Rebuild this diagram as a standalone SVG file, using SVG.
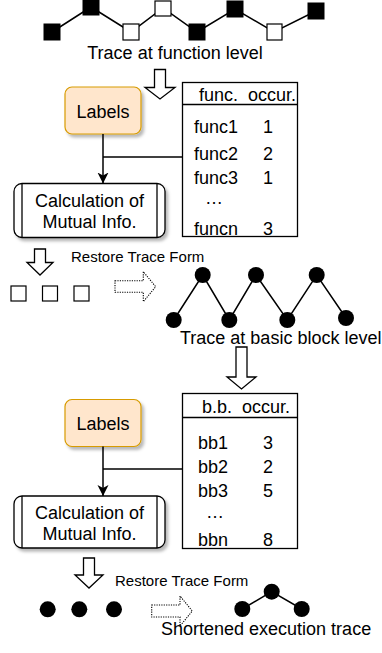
<svg xmlns="http://www.w3.org/2000/svg" width="382" height="653" viewBox="0 0 382 653">
  <style>
    text { font-family: "Liberation Sans", Arial, sans-serif; fill: #000; }
    .t18 { font-size: 18px; }
    .t15 { font-size: 15px; }
    .mid { text-anchor: middle; }
    .end { text-anchor: end; }
    .trace { fill: none; stroke: #000; stroke-width: 1.5; }
    .sqb { fill: #000; stroke: #000; stroke-width: 1; }
    .sqw { fill: #fff; stroke: #000; stroke-width: 1.2; }
    .dot { fill: #000; }
    .block { fill: #fff; stroke: #000; stroke-width: 1.3; stroke-linejoin: miter; }
    .dotted { fill: #fff; stroke: #000; stroke-width: 1.1; stroke-dasharray: 1.2 1.2; }
    .label { fill: #ffe6cc; stroke: #d79b00; stroke-width: 1.2; }
    .proc { fill: #fff; stroke: #000; stroke-width: 1.3; }
    .tbl { fill: #fff; stroke: #000; stroke-width: 1.3; }
    .wire { fill: none; stroke: #000; stroke-width: 1.5; }
  </style>
  <defs>
    <filter id="shadow" x="-20%" y="-20%" width="150%" height="150%">
      <feDropShadow dx="2.5" dy="3" stdDeviation="1.5" flood-color="#000" flood-opacity="0.28"/>
    </filter>
    <marker id="arrow" viewBox="0 0 12 12" refX="11" refY="6" markerWidth="12" markerHeight="12" markerUnits="userSpaceOnUse" orient="auto">
      <path d="M0,0.5 L11,6 L0,11.5 L3,6 Z" fill="#000"/>
    </marker>
  </defs>

  <!-- function-level trace -->
  <g id="trace-function">
    <polyline class="trace" points="52,32 91,7 131,32 163,8 197,32 235,9 274,32 316,11"/>
    <rect class="sqb" x="44" y="24" width="16" height="16"/>
    <rect class="sqb" x="83" y="-1" width="16" height="16"/>
    <rect class="sqw" x="123" y="24" width="16" height="16"/>
    <rect class="sqw" x="155" y="1" width="16" height="15"/>
    <rect class="sqb" x="189" y="24" width="16" height="16"/>
    <rect class="sqb" x="227" y="1" width="16" height="16"/>
    <rect class="sqw" x="267" y="24" width="15" height="16"/>
    <rect class="sqb" x="308" y="3" width="16" height="16"/>
    <text class="t18 mid" x="175" y="59">Trace at function level</text>
  </g>

  <g id="down-arrow-1">
    <polygon class="block" points="154.5,69.5 165.5,69.5 165.5,87.5 175,87.5 160,99 145,87.5 154.5,87.5"/>
  </g>

  <!-- first pass -->
  <g id="labels-1">
    <rect class="label" x="65" y="87" width="76" height="47" rx="7" filter="url(#shadow)"/>
    <text class="t18 mid" x="103" y="118">Labels</text>
  </g>

  <g id="table-func">
    <rect class="tbl" x="182.5" y="82.5" width="115" height="154"/>
    <line class="wire" x1="182.5" y1="104.5" x2="297.5" y2="104.5" stroke-width="1.3"/>
    <text class="t18" x="199" y="101">func.</text>
    <text class="t18 end" x="296" y="101">occur.</text>
    <text class="t18" x="194" y="133">func1</text>
    <text class="t18 mid" x="268" y="133">1</text>
    <text class="t18" x="194" y="160">func2</text>
    <text class="t18 mid" x="268" y="160">2</text>
    <text class="t18" x="194" y="184">func3</text>
    <text class="t18 mid" x="268" y="184">1</text>
    <text class="t18 mid" x="214" y="204">…</text>
    <text class="t18" x="194" y="235">funcn</text>
    <text class="t18 mid" x="268" y="235">3</text>
  </g>

  <g id="calc-1">
    <rect class="proc" x="14" y="183.5" width="151" height="54" rx="8" filter="url(#shadow)"/>
    <line class="proc" x1="22" y1="183.5" x2="22" y2="237.5"/>
    <line class="proc" x1="157" y1="183.5" x2="157" y2="237.5"/>
    <text class="t18 mid" x="89.5" y="207">Calculation of</text>
    <text class="t18 mid" x="89.5" y="228">Mutual Info.</text>
  </g>

  <g id="down-arrow-2">
    <polygon class="block" points="34.5,249 45.5,249 45.5,262.5 53,262.5 40,275 27,262.5 34.5,262.5"/>
  </g>
  <text class="t15" x="71" y="262">Restore Trace Form</text>

  <g id="squares-restored">
    <rect class="sqw" x="11" y="286" width="15" height="15"/>
    <rect class="sqw" x="42.5" y="286" width="15" height="15"/>
    <rect class="sqw" x="74" y="286" width="15" height="15"/>
  </g>

  <g id="dotted-arrow-1">
    <polygon class="dotted" points="115,280.7 143.3,280.7 143.3,271.7 155.7,286.7 143.3,301.7 143.3,292.3 115,292.3"/>
  </g>

  <!-- basic-block-level trace -->
  <g id="trace-basic-block">
    <polyline class="trace" points="173.7,320 202.7,275 229.3,320 256,275 287.3,320 316.7,275 346,318"/>
    <circle class="dot" cx="173.7" cy="320" r="8"/>
    <circle class="dot" cx="202.7" cy="275" r="8"/>
    <circle class="dot" cx="229.3" cy="320" r="8"/>
    <circle class="dot" cx="256" cy="275" r="8"/>
    <circle class="dot" cx="287.3" cy="320" r="8"/>
    <circle class="dot" cx="316.7" cy="275" r="8"/>
    <circle class="dot" cx="346" cy="318" r="8"/>
    <text class="t18" x="180" y="344">Trace at basic block level</text>
  </g>

  <g id="down-arrow-3">
    <polygon class="block" points="236,347 247,347 247,377 256,377 241.5,389 227,377 236,377"/>
  </g>

  <!-- second pass -->
  <g id="labels-2">
    <rect class="label" x="65" y="399.5" width="76" height="47" rx="7" filter="url(#shadow)"/>
    <text class="t18 mid" x="103" y="429.5">Labels</text>
  </g>

  <g id="table-bb">
    <rect class="tbl" x="182.5" y="393.5" width="115" height="155"/>
    <line class="wire" x1="182.5" y1="417.5" x2="297.5" y2="417.5" stroke-width="1.3"/>
    <text class="t18" x="202" y="413">b.b.</text>
    <text class="t18 end" x="290" y="413">occur.</text>
    <text class="t18" x="198" y="449">bb1</text>
    <text class="t18 mid" x="268" y="449">3</text>
    <text class="t18" x="198" y="473">bb2</text>
    <text class="t18 mid" x="268" y="473">2</text>
    <text class="t18" x="198" y="497">bb3</text>
    <text class="t18 mid" x="268" y="497">5</text>
    <text class="t18 mid" x="215" y="517.5">…</text>
    <text class="t18" x="198" y="546">bbn</text>
    <text class="t18 mid" x="268" y="546">8</text>
  </g>

  <g id="calc-2">
    <rect class="proc" x="14" y="496" width="151" height="52" rx="8" filter="url(#shadow)"/>
    <line class="proc" x1="22" y1="496" x2="22" y2="548"/>
    <line class="proc" x1="157" y1="496" x2="157" y2="548"/>
    <text class="t18 mid" x="89.5" y="518.5">Calculation of</text>
    <text class="t18 mid" x="89.5" y="540">Mutual Info.</text>
  </g>

  <g id="down-arrow-4">
    <polygon class="block" points="83.5,558 94.5,558 94.5,575 103,575 89,588 75,575 83.5,575"/>
  </g>
  <text class="t15" x="115" y="586">Restore Trace Form</text>

  <g id="dots-restored">
    <circle class="dot" cx="47.7" cy="609.3" r="8"/>
    <circle class="dot" cx="79.3" cy="609.3" r="8"/>
    <circle class="dot" cx="114" cy="609.3" r="8"/>
  </g>

  <g id="dotted-arrow-2">
    <polygon class="dotted" points="151.7,605 180,605 180,596 192.3,611 180,626 180,617 151.7,617"/>
  </g>

  <g id="trace-shortened">
    <polyline class="trace" points="242.3,609 271.7,591.7 301.7,609"/>
    <circle class="dot" cx="242.3" cy="609" r="8"/>
    <circle class="dot" cx="271.7" cy="591.7" r="8"/>
    <circle class="dot" cx="301.7" cy="609" r="8"/>
    <text class="t18" x="161" y="635">Shortened execution trace</text>
  </g>

  <!-- connectors -->
  <g id="connectors">
    <line class="wire" x1="103" y1="134" x2="103" y2="183.5" marker-end="url(#arrow)"/>
    <line class="wire" x1="103" y1="157" x2="182.5" y2="157"/>
    <line class="wire" x1="103" y1="446.5" x2="103" y2="496" marker-end="url(#arrow)"/>
    <line class="wire" x1="103" y1="469" x2="182.5" y2="469"/>
  </g>
</svg>
